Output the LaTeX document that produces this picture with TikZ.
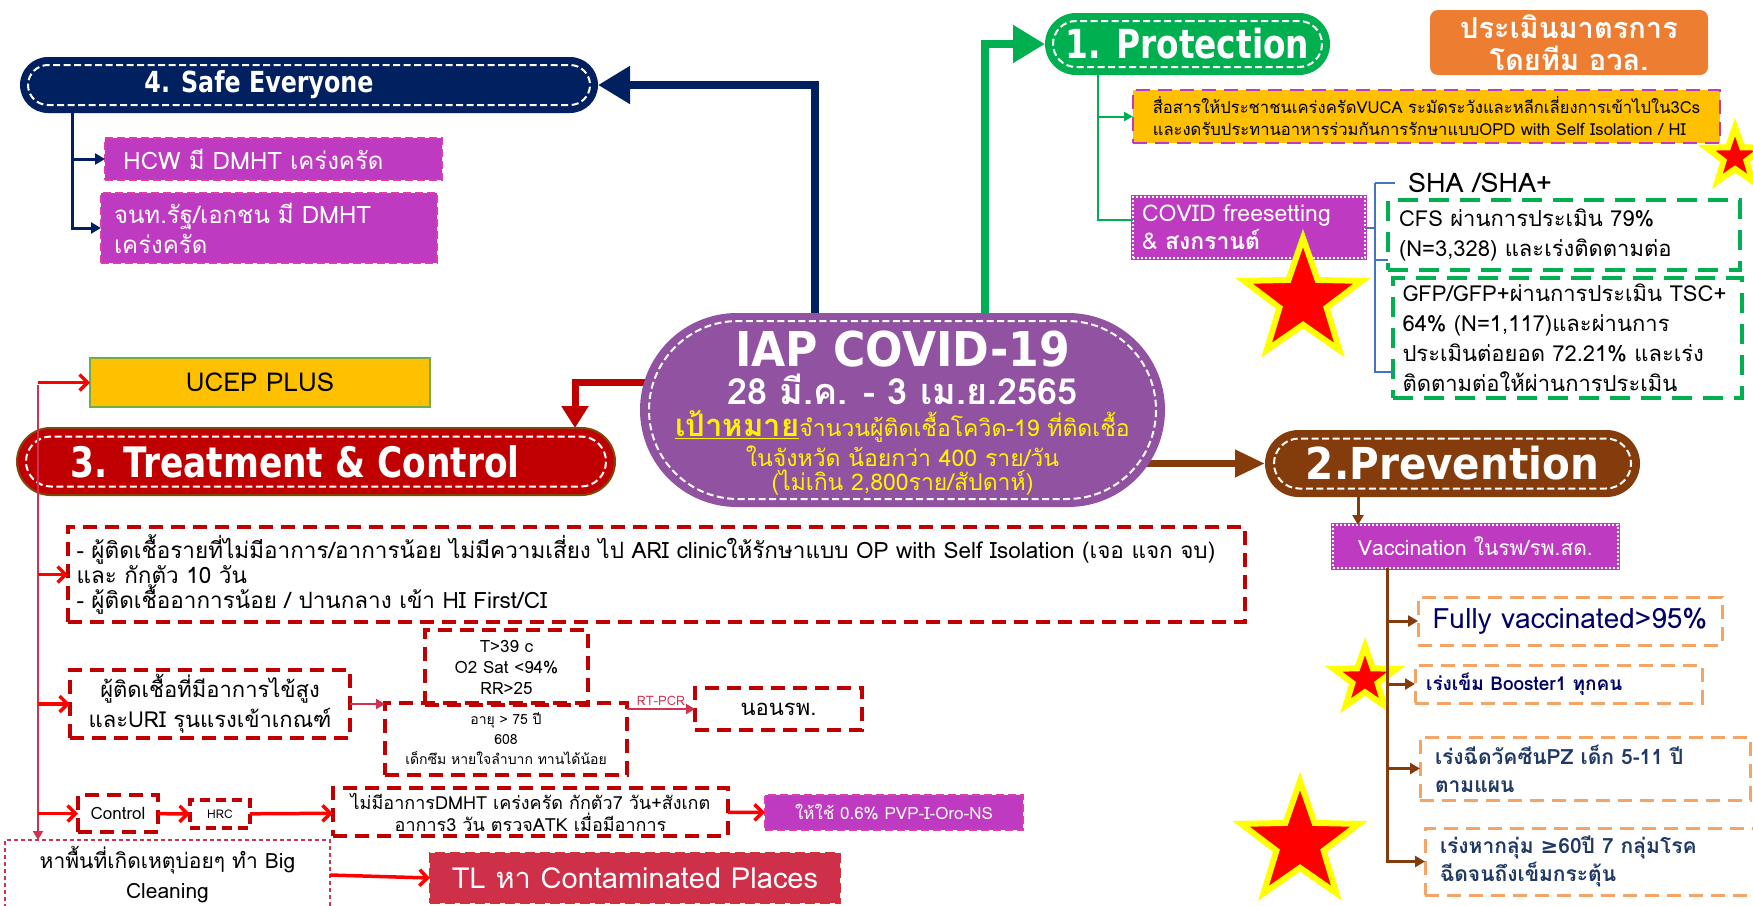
\documentclass[tikz,border=0pt]{standalone}
\usepackage{fontspec}
\setmainfont[Script=Thai]{Loma}
\newfontfamily\symfont{DejaVu Sans}
\newfontfamily\titlefont[FakeStretch=0.82]{DejaVu Sans}
\newfontfamily\widefont[FakeStretch=0.92]{DejaVu Sans}
\usetikzlibrary{arrows.meta, positioning, calc, shapes.misc, shapes.geometric, backgrounds}
\definecolor{SafeNavy}{RGB}{0, 32, 96}
\definecolor{ProtGreen}{RGB}{0, 176, 80}
\definecolor{EvalOrange}{RGB}{237, 125, 49}
\definecolor{BoxYellow}{RGB}{255, 192, 0}
\definecolor{BoxMagenta}{RGB}{190, 58, 192}
\definecolor{BorderPink}{RGB}{222, 60, 170}
\definecolor{IapPurple}{RGB}{145, 82, 161}
\definecolor{TreatRed}{RGB}{192, 0, 0}
\definecolor{TreatRim}{RGB}{128, 70, 10}
\definecolor{PrevBrown}{RGB}{132, 60, 12}
\definecolor{LineCrimson}{RGB}{210, 50, 80}
\definecolor{PlaceCrimson}{RGB}{206, 48, 74}
\definecolor{DashOrange}{RGB}{244, 164, 100}
\definecolor{TextNavy}{RGB}{0, 0, 102}
\definecolor{TextBlue}{RGB}{31, 56, 100}
\definecolor{BracketBlue}{RGB}{68, 114, 196}
\definecolor{StarYellow}{RGB}{255, 255, 0}
\definecolor{UcepGreen}{RGB}{112, 173, 71}
\newcommand{\fsz}[2]{\fontsize{#1}{#2}\selectfont}

\begin{document}
\begin{tikzpicture}[x=1pt, y=-1pt,
    every node/.style={inner sep=0pt, outer sep=0pt},
    pill/.style={rounded rectangle, fill=#1, text=white},
    pillin/.style={rounded rectangle, draw=white, line width=2pt, dash pattern=on 7pt off 3.5pt},
    magbox/.style={rectangle, fill=BoxMagenta, draw=BorderPink, line width=1.5pt, dash pattern=on 8pt off 4pt, text=white},
    dotbox/.style={rectangle, fill=BoxMagenta, draw=BoxMagenta, line width=4pt, text=white,
        postaction={draw=white, line width=1.8pt, dash pattern=on 2pt off 2pt}},
    reddash/.style={rectangle, draw=TreatRed, line width=3.5pt, dash pattern=on 14pt off 8pt, align=center},
    greendash/.style={rectangle, draw=ProtGreen, line width=3.5pt, dash pattern=on 20pt off 11pt, align=left},
    orangedash/.style={rectangle, draw=DashOrange, line width=3pt, dash pattern=on 14pt off 8pt, align=left},
    bigstar/.style={star, star points=5, star point ratio=2.5, fill=red, draw=StarYellow, line width=6pt, minimum size=#1},
    mainarrow/.style={#1, line width=8pt, -{Triangle[length=32pt, width=36pt]}},
    subarrow/.style={#1, line width=3pt, -{Triangle[length=10pt, width=11pt]}},
    redchev/.style={red, line width=3.5pt, -{Straight Barb[length=8pt, width=16pt]}},
    crimarrow/.style={LineCrimson, line width=2.5pt, -{Triangle[length=9pt, width=10pt]}},
    blueline/.style={BracketBlue, line width=2pt}
    ]
    \useasboundingbox (0,0) rectangle (1753,905);

    % --- CENTRE: IAP COVID-19 ---
    \node[pill=IapPurple, minimum width=525pt, minimum height=194pt] (iap) at (902.5,410) {};
    \node[pillin, minimum width=507pt, minimum height=178pt] (iapin) at (iap.center) {};
    \node[text=white, font=\fsz{48}{50}\widefont\bfseries] (iaptitle) at (902.5,349) {IAP COVID-19};
    \node[text=white, font=\fsz{36}{38}\bfseries] (iapdate) at (902.5,389) {28 มี.ค. - 3 เม.ย.2565};
    \node[text=yellow, font=\fsz{23}{26}] (iapgoal) at (902.5,427) {{\fsz{31}{34}\bfseries\underline{เป้าหมาย}}จำนวนผู้ติดเชื้อโควิด-19 ที่ติดเชื้อ};
    \node[text=yellow, font=\fsz{23}{26}] (iapday) at (902.5,456) {ในจังหวัด น้อยกว่า 400 ราย/วัน};
    \node[text=yellow, font=\fsz{23}{26}] (iapweek) at (902.5,483) {(ไม่เกิน 2,800ราย/สัปดาห์)};

    % --- 4. Safe Everyone ---
    \node[pill=SafeNavy, minimum width=578pt, minimum height=56pt, font=\fsz{29}{32}\titlefont\bfseries] (safe) at (309,85) {4. Safe Everyone\hspace*{100pt}};
    \node[pillin, minimum width=562pt, minimum height=40pt] (safein) at (safe.center) {};
    \node[magbox, minimum width=337pt, minimum height=42pt, font=\fsz{24}{30}] (hcw) at (273.5,159) {HCW มี DMHT เคร่งครัด\hspace*{40pt}};
    \node[magbox, minimum width=336pt, minimum height=70pt, text width=310pt, align=left, font=\fsz{24}{30}] (staff) at (269,228) {จนท.รัฐ/เอกชน มี DMHT\\เคร่งครัด};

    % --- 1. Protection ---
    \node[pill=ProtGreen, minimum width=285pt, minimum height=62pt, font=\fsz{40}{44}\titlefont\bfseries] (prot) at (1187.5,44) {1. Protection};
    \node[pillin, minimum width=269pt, minimum height=46pt] (protin) at (prot.center) {};
    \node[rectangle, rounded corners=8pt, fill=EvalOrange, text=white, minimum width=278pt, minimum height=65pt, align=center, font=\fsz{29}{32}\bfseries] (eval) at (1569,42.5) {ประเมินมาตรการ\\โดยทีม อวล.};
    \node[rectangle, fill=BoxYellow, draw=BoxMagenta, line width=2.5pt, dash pattern=on 14pt off 8pt, minimum width=587pt, minimum height=53pt, align=left, font=\fsz{16.6}{22}] (msg) at (1426.5,116.5) {สื่อสารให้ประชาชนเคร่งครัดVUCA ระมัดระวังและหลีกเลี่ยงการเข้าไปใน3Cs\\และงดรับประทานอาหารร่วมกันการรักษาแบบOPD with Self Isolation / HI};
    \node[dotbox, minimum width=232pt, minimum height=61pt, text width=214pt, align=left, font=\fsz{23}{28}] (covid) at (1249,227.5) {COVID freesetting\\\& \textbf{สงกรานต์}};
    \node[font=\fsz{27}{30}] (sha) at (1480,183) {SHA /SHA+};
    \node[greendash, minimum width=352pt, minimum height=70pt, text width=330pt, font=\fsz{22}{30}] (cfs) at (1564,235) {CFS ผ่านการประเมิน  79\%\\(N=3,328)  และเร่งติดตามต่อ};
    \node[greendash, minimum width=349pt, minimum height=120pt, text width=330pt, font=\fsz{22}{30}] (gfp) at (1567.5,338) {GFP/GFP+ผ่านการประเมิน TSC+\\64\% (N=1,117)และผ่านการ\\ประเมินต่อยอด 72.21\% และเร่ง\\ติดตามต่อให้ผ่านการประเมิน};

    % --- 3. Treatment & Control ---
    \node[rectangle, fill=BoxYellow, draw=UcepGreen, line width=2pt, minimum width=340pt, minimum height=49pt, font=\fsz{26}{30}] (ucep) at (260,382.5) {UCEP PLUS};
    \node[pill=TreatRed, draw=TreatRim, line width=2pt, minimum width=598pt, minimum height=67pt, font=\fsz{42}{46}\titlefont\bfseries] (treat) at (316,461.5) {3. Treatment \& Control\hspace*{42pt}};
    \node[pillin, minimum width=580pt, minimum height=50pt] (treatin) at (treat.center) {};
    \node[reddash, minimum width=1177pt, minimum height=95pt, text width=1160pt, align=left, font=\fsz{22.5}{25}] (outpat) at (656.5,574.5) {- ผู้ติดเชื้อรายที่ไม่มีอาการ/อาการน้อย ไม่มีความเสี่ยง ไป ARI clinicให้รักษาแบบ  OP with Self Isolation (เจอ แจก จบ)\\และ กักตัว 10 วัน\\- ผู้ติดเชื้ออาการน้อย / ปานกลาง เข้า HI First/CI};
    \node[reddash, minimum width=280pt, minimum height=68pt, font=\fsz{22}{30}] (fever) at (210,704) {ผู้ติดเชื้อที่มีอาการไข้สูง\\และURI รุนแรงเข้าเกณฑ์};
    \node[reddash, minimum width=163pt, minimum height=75pt, font=\fsz{17}{21}] (tcrit) at (506.5,667.5) {T>39 c\\O2 Sat <94\%\\RR>25};
    \node[reddash, minimum width=242pt, minimum height=72pt, font=\fsz{14}{20}] (age) at (506,739) {อายุ > 75 ปี\\608\\เด็กซึม หายใจลำบาก ทานได้น้อย};
    \node[reddash, minimum width=167pt, minimum height=42pt, font=\fsz{22}{26}] (admit) at (778.5,709) {นอนรพ.};
    \node[reddash, minimum width=80pt, minimum height=37pt, font=\fsz{17}{20}] (ctrl) at (118,813.5) {Control};
    \node[reddash, dash pattern=on 10pt off 6pt, minimum width=60pt, minimum height=28pt, font=\fsz{12}{14}] (hrc) at (220,814) {HRC};
    \node[reddash, minimum width=395pt, minimum height=48pt, font=\fsz{18}{22}] (nosym) at (530.5,812) {ไม่มีอาการDMHT เคร่งครัด กักตัว7 วัน+สังเกต\\อาการ3 วัน ตรวจATK เมื่อมีอาการ};
    \node[magbox, minimum width=258pt, minimum height=35pt, font=\fsz{17}{20}] (pvp) at (894,812.5) {ให้ใช้ 0.6\% PVP-I-Oro-NS};
    \node[rectangle, draw=LineCrimson, line width=1.5pt, dash pattern=on 4pt off 3pt, minimum width=325pt, minimum height=70pt, align=center, font=\fsz{21}{30}] (clean) at (167.5,875) {หาพื้นที่เกิดเหตุบ่อยๆ ทำ Big\\Cleaning};
    \node[rectangle, fill=PlaceCrimson, draw=TreatRed!80, line width=2.5pt, dash pattern=on 10pt off 5pt, text=white, minimum width=410pt, minimum height=50pt, font=\fsz{29}{32}] (tl) at (635,878) {TL หา Contaminated Places};

    % --- 2. Prevention ---
    \node[pill=PrevBrown, minimum width=375pt, minimum height=67pt, font=\fsz{44}{48}\widefont\bfseries] (prev) at (1452.5,463.5) {2.Prevention};
    \node[pillin, minimum width=357pt, minimum height=50pt] (previn) at (prev.center) {};
    \node[dotbox, minimum width=285pt, minimum height=43pt, font=\fsz{21}{24}] (vacc) at (1475.5,546.5) {Vaccination ในรพ/รพ.สด.};
    \node[orangedash, minimum width=304pt, minimum height=48pt, text=TextNavy, font=\fsz{28}{30}] (fully) at (1570,621) {Fully vaccinated>95\%};
    \node[orangedash, minimum width=287pt, minimum height=38pt, text width=265pt, text=TextNavy, font=\fsz{19}{22}\bfseries] (boost) at (1558.5,684) {เร่งเข็ม Booster1 ทุกคน};
    \node[orangedash, minimum width=330pt, minimum height=63pt, text width=300pt, text=TextBlue, font=\fsz{21}{28}\bfseries] (pz) at (1585,768.5) {เร่งฉีดวัคซีนPZ เด็ก 5-11 ปี\\ตามแผน};
    \node[orangedash, minimum width=335pt, minimum height=67pt, text width=305pt, text=TextBlue, font=\fsz{21}{28}\bfseries] (old) at (1592.5,861.5) {เร่งหากลุ่ม {\symfont ≥}60ปี 7 กลุ่มโรค\\ฉีดจนถึงเข็มกระตุ้น};

    % --- Stars ---
    \node[bigstar=60pt] (starmsg) at (1735,157) {};
    \node[bigstar=124pt] (starcfs) at (1303,300) {};
    \node[bigstar=66pt] (starboost) at (1365,679) {};
    \node[bigstar=124pt] (starold) at (1300,843) {};

    % --- Main connectors from the centre ---
    \begin{scope}[on background layer]
        \draw[mainarrow=SafeNavy] ([xshift=-87.5pt]iap.center) |- (safe.east);
        \draw[mainarrow=ProtGreen] ([xshift=82.5pt]iap.center) |- (prot.west);
        \draw[TreatRed, line width=7pt, -{Triangle[length=22pt, width=26pt]}] ([yshift=28pt]iap.center) -| ([xshift=259pt]treat.north);
        \draw[PrevBrown, line width=7pt, -{Triangle[length=30pt, width=26pt]}] (iap.center |- prev.west) -- (prev.west);
    \end{scope}

    % Safe Everyone branches
    \draw[subarrow=SafeNavy] ([xshift=-237pt]safe.south) |- (hcw.west);
    \draw[subarrow=SafeNavy] ([xshift=-237pt]safe.south) |- (staff.west);

    % Protection branches
    \draw[ProtGreen, line width=2pt, -{Triangle[length=9pt, width=9pt]}] ([xshift=-89.5pt]prot.south) |- (msg.west);
    \draw[ProtGreen, line width=2pt] ([xshift=-89.5pt]prot.south) |- ([yshift=8pt]covid.west);
    \coordinate (brk) at (1375,183);
    \draw[blueline] (covid.east) -- (covid.east -| brk);
    \draw[blueline] (brk) -- ++(20,0);
    \draw[blueline] (brk) |- ([yshift=10pt]cfs.south west);
    \draw[blueline] (brk) |- ([yshift=-34pt]gfp.west);

    % Prevention branches
    \draw[subarrow=PrevBrown] ([xshift=-94.5pt]prev.south) -- ([xshift=-94.5pt]prev.south |- vacc.north);
    \draw[subarrow=PrevBrown] ([xshift=-88.5pt]vacc.south) |- (fully.west);
    \draw[subarrow=PrevBrown] ([xshift=-88.5pt]vacc.south) |- (boost.west);
    \draw[subarrow=PrevBrown] ([xshift=-88.5pt]vacc.south) |- (pz.west);
    \draw[subarrow=PrevBrown] ([xshift=-88.5pt]vacc.south) |- (old.west);

    % Treatment & Control branches
    \coordinate (ltop) at (38,385);
    \draw[crimarrow] (ltop) -- (ltop |- clean.north);
    \draw[redchev] (ltop |- ucep.west) -- (ucep.west);
    \draw[redchev] (ltop |- outpat.west) -- (outpat.west);
    \draw[redchev] (ltop |- fever.west) -- (fever.west);
    \draw[redchev] (ltop |- ctrl.west) -- (ctrl.west);
    \draw[crimarrow] (fever.east) -- (fever.east -| age.west);
    \draw[crimarrow] (age.east |- admit.west) -- node[above=3pt, font=\fsz{13}{15}] (rtpcr) {RT-PCR} (admit.west);
    \draw[redchev] (ctrl) -- (hrc);
    \draw[redchev] (hrc) -- (nosym);
    \draw[redchev] (nosym) -- (pvp);
    \draw[redchev] (clean.east) -- (tl.west);

\end{tikzpicture}
\end{document}
